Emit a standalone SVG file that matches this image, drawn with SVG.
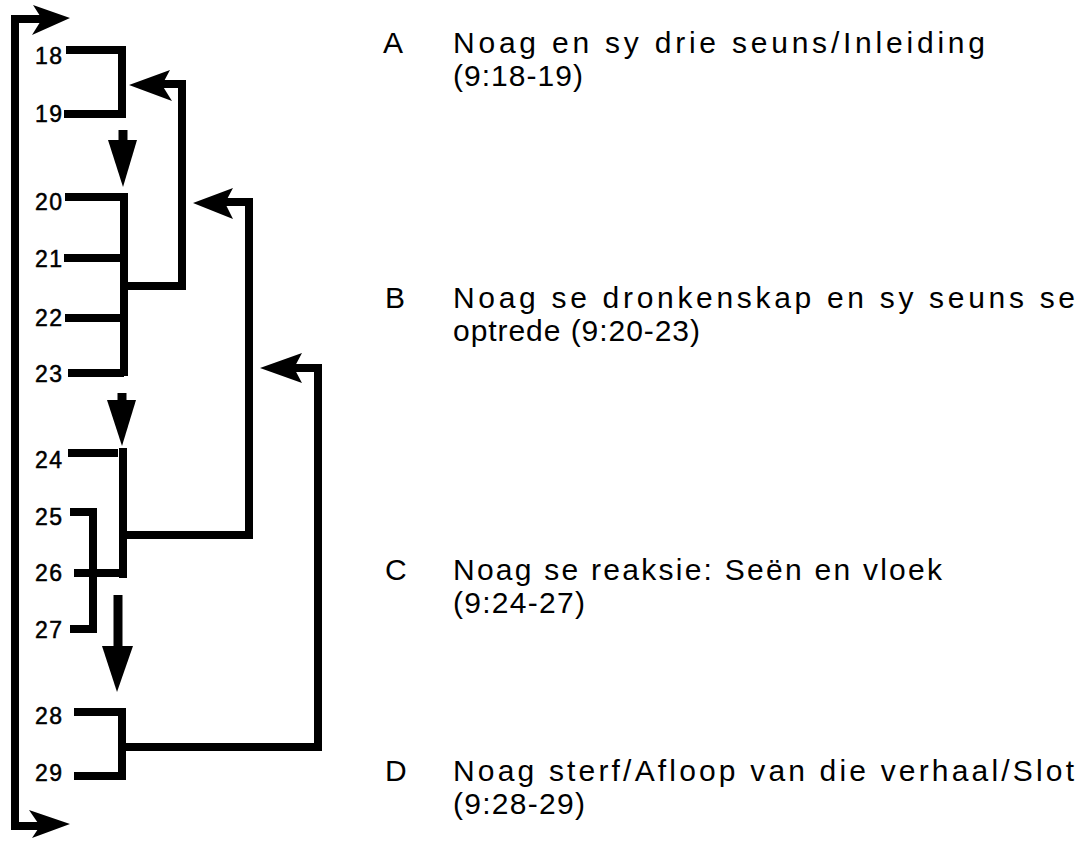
<svg xmlns="http://www.w3.org/2000/svg" width="1087" height="841" viewBox="0 0 1087 841">
<style>
.ln{fill:none;stroke:#000;stroke-width:8;stroke-linejoin:miter;stroke-linecap:butt}
.hd{fill:#000;stroke:none}
.num{font-family:"Liberation Sans",Arial,sans-serif;font-size:23px;fill:#000;text-anchor:end;stroke:#000;stroke-width:0.5}
.txt{font-family:"Liberation Sans",Arial,sans-serif;font-size:30px;fill:#000}
</style>
<rect width="1087" height="841" fill="#fff"/>
<g id="connectors">
  <path class="ln" d="M44,19 H15 V826 H42"/>
  <polygon class="hd" points="70,18 33,5 42,19 32,35"/>
  <polygon class="hd" points="70,824 29,810 40,826 32,838"/>
  <path class="ln" d="M160,84 H182 V286 H123"/>
  <polygon class="hd" points="129,85 170,70 162,85 172,101"/>
  <path class="ln" d="M224,202 H249 V535 H123"/>
  <polygon class="hd" points="193,203 233,188 225,203 233,219"/>
  <path class="ln" d="M292,368 H318 V747 H122"/>
  <polygon class="hd" points="260,368 302,353 294,368 302,383"/>
  <path class="ln" d="M123,130 V144" style="stroke-width:9"/>
  <polygon class="hd" points="108,140 137,140 123,187"/>
  <path class="ln" d="M122,393 V404" style="stroke-width:9"/>
  <polygon class="hd" points="107,400 136,400 122,446"/>
  <path class="ln" d="M118,595 V650" style="stroke-width:9"/>
  <polygon class="hd" points="102,646 133,646 117,692"/>
</g>
<g id="group-A">
  <path class="ln" d="M66,50 H122 V114 H64"/>
  <text class="num" x="62" y="64" textLength="27">18</text>
  <text class="num" x="62" y="122" textLength="27">19</text>
</g>
<g id="group-B">
  <path class="ln" d="M65,197 H124 V376"/>
  <path class="ln" d="M64,258 H124 M65,318 H124 M68,373 H124"/>
  <text class="num" x="62" y="210" textLength="27">20</text>
  <text class="num" x="62" y="267" textLength="27">21</text>
  <text class="num" x="62" y="326" textLength="27">22</text>
  <text class="num" x="62" y="382" textLength="27">23</text>
</g>
<g id="group-C">
  <path class="ln" d="M68,453 H118 M123,448 V578 M74,573 H126"/>
  <path class="ln" d="M70,512 H93 V629 H70"/>
  <text class="num" x="62" y="468" textLength="27">24</text>
  <text class="num" x="62" y="525" textLength="27">25</text>
  <text class="num" x="62" y="581" textLength="27">26</text>
  <text class="num" x="62" y="638" textLength="27">27</text>
</g>
<g id="group-D">
  <path class="ln" d="M74,712 H122 V776 H74"/>
  <text class="num" x="62" y="724" textLength="27">28</text>
  <text class="num" x="62" y="781" textLength="27">29</text>
</g>
<g id="legend-A">
  <text class="txt" x="383" y="53">A</text>
  <text class="txt" x="453" y="53" textLength="532" lengthAdjust="spacing">Noag en sy drie seuns/Inleiding</text>
  <text class="txt" x="453" y="86" textLength="130" lengthAdjust="spacing">(9:18-19)</text>
</g>
<g id="legend-B">
  <text class="txt" x="385" y="308">B</text>
  <text class="txt" x="453" y="308" textLength="622" lengthAdjust="spacing">Noag se dronkenskap en sy seuns se</text>
  <text class="txt" x="453" y="341" textLength="247" lengthAdjust="spacing">optrede (9:20-23)</text>
</g>
<g id="legend-C">
  <text class="txt" x="385" y="580">C</text>
  <text class="txt" x="453" y="580" textLength="489" lengthAdjust="spacing">Noag se reaksie: Seën en vloek</text>
  <text class="txt" x="453" y="613" textLength="132" lengthAdjust="spacing">(9:24-27)</text>
</g>
<g id="legend-D">
  <text class="txt" x="385" y="781">D</text>
  <text class="txt" x="453" y="781" textLength="621" lengthAdjust="spacing">Noag sterf/Afloop van die verhaal/Slot</text>
  <text class="txt" x="453" y="814" textLength="132" lengthAdjust="spacing">(9:28-29)</text>
</g>
</svg>
